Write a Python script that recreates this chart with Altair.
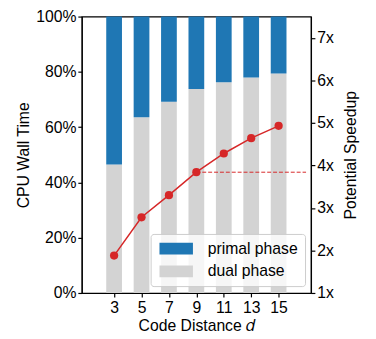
import altair as alt
import pandas as pd

d_vals = [3, 5, 7, 9, 11, 13, 15]
dual_frac = [0.465, 0.636, 0.692, 0.738, 0.762, 0.780, 0.794]
speedup = [1.88, 2.78, 3.30, 3.84, 4.28, 4.64, 4.93]
phases = ["primal phase", "dual phase"]
phase_colors = ["#1f77b4", "#d3d3d3"]
left_ticks = [0, 0.2, 0.4, 0.6, 0.8, 1.0]
right_ticks = [1, 2, 3, 4, 5, 6, 7]
x_domain = [1, 17]
ref_index = 3

rows = []
for d, du in zip(d_vals, dual_frac):
    rows.append({"d": d, "phase": "dual phase", "y0": 0.0, "y1": du})
    rows.append({"d": d, "phase": "primal phase", "y0": du, "y1": 1.0})
bars_df = pd.DataFrame(rows)
line_df = pd.DataFrame({"d": d_vals, "speedup": speedup})
ref_df = pd.DataFrame({"d": [d_vals[ref_index]], "d2": [x_domain[1]], "speedup": [speedup[ref_index]]})

FONT = "Liberation Sans"
RED = "#d62728"

xscale = alt.Scale(domain=x_domain, nice=False, zero=False)
xaxis = alt.Axis(values=d_vals, title="Code Distance 𝑑", grid=False, format="d",
                 labelPadding=3, titlePadding=2, labelOverlap=False, labelSeparation=0)
xenc = alt.X("d:Q", scale=xscale, axis=xaxis)

bars = alt.Chart(bars_df).mark_bar(size=16).encode(
    x=xenc,
    y=alt.Y("y0:Q", scale=alt.Scale(domain=[0, 1], nice=False),
            axis=alt.Axis(format=".0%", values=left_ticks, title="CPU Wall Time",
                          grid=False, titlePadding=4, labelOverlap=False)),
    y2="y1:Q",
    color=alt.Color("phase:N", scale=alt.Scale(domain=phases, range=phase_colors),
                    legend=alt.Legend(title=None, orient="none", legendX=70, legendY=221,
                                      symbolType="M-1,-1H4.67V1H-1Z", symbolSize=144,
                                      symbolStrokeWidth=0, symbolOpacity=1,
                                      labelFontSize=16, labelFont=FONT, labelColor="black",
                                      labelOffset=35, padding=7, rowPadding=7,
                                      fillColor="rgba(255,255,255,0.8)", strokeColor="#cccccc",
                                      cornerRadius=3)),
)

yright = alt.Scale(domain=[1, 7.5], nice=False, zero=False)
raxis = alt.Axis(orient="right", values=right_ticks, labelExpr="datum.value + 'x'",
                 title="Potential Speedup", grid=False, titleAngle=270, titlePadding=25,
                 labelOverlap=False)

line = alt.Chart(line_df).mark_line(color=RED, strokeWidth=1.5).encode(
    x=xenc,
    y=alt.Y("speedup:Q", scale=yright, axis=raxis),
)
points = alt.Chart(line_df).mark_point(color=RED, filled=True, size=70, opacity=1).encode(
    x=xenc,
    y=alt.Y("speedup:Q", scale=yright, axis=raxis),
)
rule = alt.Chart(ref_df).mark_rule(color=RED, strokeWidth=1, strokeDash=[4, 2]).encode(
    x=xenc,
    x2="d2:Q",
    y=alt.Y("speedup:Q", scale=yright, axis=raxis),
)

right = alt.layer(line, rule, points)

chart = alt.layer(bars, right).resolve_scale(y="independent").properties(
    width=233, height=281,
    autosize=alt.AutoSizeParams(type="none"),
    padding={"left": 75, "top": 6, "right": 58, "bottom": 40},
).configure_axis(
    labelFont=FONT, titleFont=FONT, labelFontSize=16, titleFontSize=16,
    titleFontWeight="normal", labelColor="black", titleColor="black",
    domainColor="black", tickColor="black", tickSize=4, domainWidth=1.2, tickWidth=1.2,
).configure_axisX(labelOverlap=False).configure_view(stroke="black", strokeWidth=1.2)

chart.save("out.html", embed_options={"renderer": "svg", "actions": False})
